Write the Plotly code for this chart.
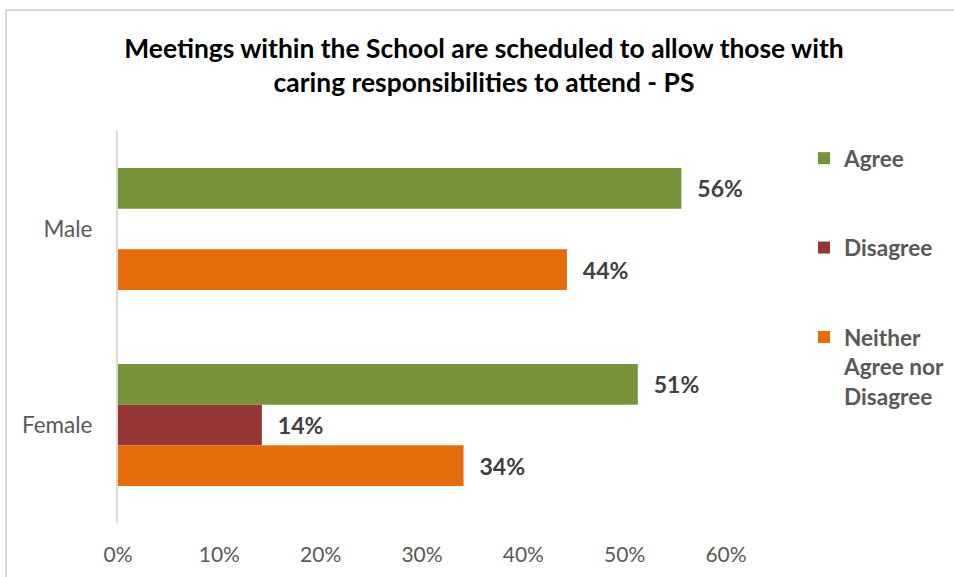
import plotly.graph_objects as go

categories = ["Male", "Female"]
series_names = ["Agree", "Disagree", "Neither<br>Agree nor<br>Disagree"]
agree = [0.556, 0.513]
disagree = [None, 0.142]
neither = [0.443, 0.341]
colors = ["#77933C", "#953735", "#E46C0A"]
x_ticks = [0, 0.1, 0.2, 0.3, 0.4, 0.5, 0.6]
title_text = "Meetings within the School are scheduled to allow those with<br>caring responsibilities to attend - PS"

W, H = 954, 577
L, R, T, B = 118, 228, 131, 54
FONT = "Lato"
GRAY = "#595959"

fig = go.Figure()
for i, (name, vals) in enumerate(zip(series_names, [agree, disagree, neither])):
    fig.add_trace(go.Bar(
        y=categories, x=vals, name=name, orientation="h",
        marker=dict(color=colors[i], line=dict(width=0)),
        texttemplate="\u2002\u200a%{x:.0%}", textposition="outside",
        textfont=dict(family=FONT, size=23, color="#404040", weight="bold"),
        cliponaxis=False, legendgroup=f"g{i}", hoverinfo="skip",
    ))

pw = W - L - R
ph = H - T - B
def px(x):
    return (x - L) / pw
def py(y):
    return (H - B - y) / ph

fig.update_layout(
    width=W, height=H,
    margin=dict(l=L, r=R, t=T, b=B, autoexpand=False),
    paper_bgcolor="white", plot_bgcolor="white",
    barmode="group", bargap=0.378, bargroupgap=0,
    title=dict(text=title_text, x=484 / W, xanchor="center", xref="container",
               y=1 - 58 / H, yanchor="top", yref="container",
               font=dict(family=FONT, size=26.4, color="#000000", weight="bold")),
    xaxis=dict(range=[0, 0.6], tickvals=x_ticks, tickformat=".0%",
               showgrid=False, zeroline=False, showline=False, ticks="",
               ticklabelstandoff=17,
               tickfont=dict(family=FONT, size=21, color=GRAY), fixedrange=True),
    yaxis=dict(categoryorder="array", categoryarray=categories,
               range=[1.5, -0.5], showgrid=False, zeroline=False,
               showline=True, linecolor="#D9D9D9", linewidth=2, ticks="",
               ticklabelstandoff=19,
               tickfont=dict(family=FONT, size=22.5, color=GRAY), fixedrange=True),
    legend=dict(x=px(804), xanchor="left", y=py(137), yanchor="top",
                font=dict(family=FONT, size=22.6, color=GRAY, weight="bold"),
                tracegroupgap=57, valign="top", itemwidth=30,
                bgcolor="rgba(0,0,0,0)"),
    shapes=[
        dict(type="line", xref="paper", yref="paper", x0=px(6), x1=px(6),
             y0=py(10), y1=py(600), line=dict(color="#D9D9D9", width=2)),
        dict(type="line", xref="paper", yref="paper", x0=px(6), x1=px(1000),
             y0=py(10), y1=py(10), line=dict(color="#D9D9D9", width=2)),
    ],
)

fig.write_html("out.html", config={"displayModeBar": False},
               post_script="document.body.style.margin='0';document.body.style.overflow='hidden';")
